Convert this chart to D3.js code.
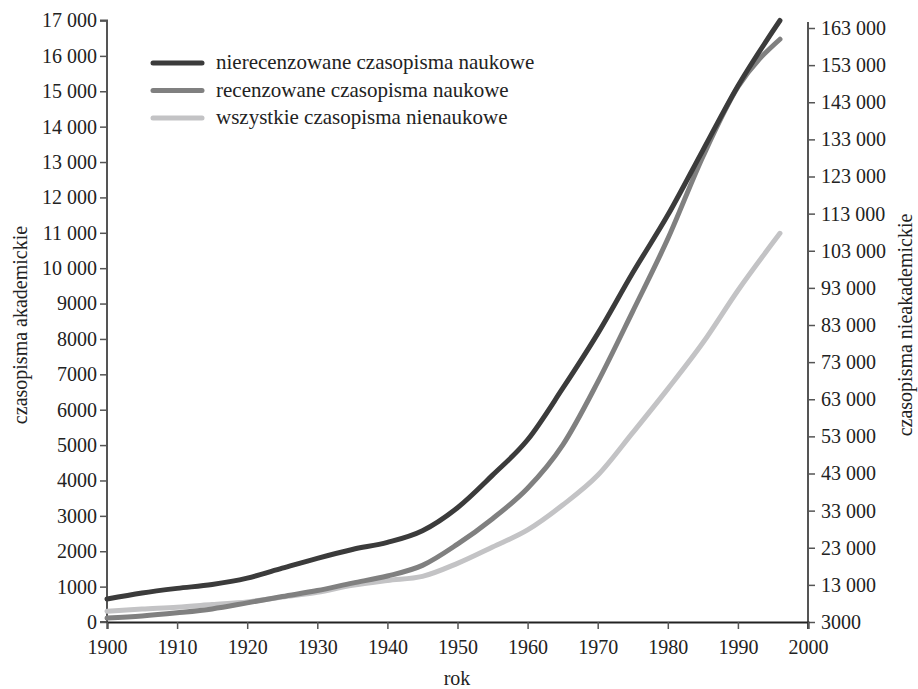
<!DOCTYPE html>
<html>
<head>
<meta charset="utf-8">
<script src="https://cdn.jsdelivr.net/npm/d3@7"></script>
<style>
  html, body { margin: 0; padding: 0; background: #fff; }
  svg text { font-family: "Liberation Serif", "Times New Roman", serif; fill: #222; }
</style>
</head>
<body>
<svg id="chart" width="918" height="689"></svg>
<script>
// ---- data ----
const years = [1900, 1905, 1910, 1915, 1920, 1925, 1930, 1935, 1940, 1945, 1950, 1955, 1960, 1965, 1970, 1975, 1980, 1985, 1990, 1996];
const nonReviewed = [650, 820, 950, 1060, 1240, 1520, 1800, 2050, 2250, 2580, 3230, 4150, 5150, 6600, 8150, 9870, 11500, 13330, 15150, 17000];
const reviewed = [110, 170, 260, 370, 540, 720, 890, 1100, 1300, 1600, 2200, 2920, 3780, 5000, 6780, 8780, 10830, 13150, 15120, 16470];
const nonAcademic = [5900, 6500, 7000, 7700, 8400, 9700, 11000, 12900, 14200, 15300, 18800, 23200, 27800, 34500, 42500, 54000, 65800, 78200, 92300, 107700];
const seriesNames = ["nierecenzowane czasopisma naukowe", "recenzowane czasopisma naukowe", "wszystkie czasopisma nienaukowe"];
const seriesColors = ["#3b3b3b", "#808080", "#c3c3c5"];
const xTicks = [1900, 1910, 1920, 1930, 1940, 1950, 1960, 1970, 1980, 1990, 2000];
const leftTicks = d3.range(0, 17001, 1000);
const rightTicks = d3.range(3000, 163001, 10000);
const xTitle = "rok";
const leftTitle = "czasopisma akademickie";
const rightTitle = "czasopisma nieakademickie";

// ---- layout ----
const svg = d3.select("#chart");
const x = d3.scaleLinear().domain([1900, 2000]).range([107, 808]);
const yL = d3.scaleLinear().domain([0, 17000]).range([622, 20.5]);
const yR = d3.scaleLinear().domain([3000, 163000]).range([622, 28]);

const fmt = v => v >= 10000 ? d3.format(",")(v).replace(/,/g, " ") : String(v);

// axes
const gL = svg.append("g").attr("transform", "translate(107,0)")
  .call(d3.axisLeft(yL).tickValues(leftTicks).tickFormat(fmt).tickSize(7).tickPadding(3));
const gR = svg.append("g").attr("transform", "translate(808,0)")
  .call(d3.axisRight(yR).tickValues(rightTicks).tickFormat(fmt).tickSize(7).tickPadding(6));
const gX = svg.append("g").attr("transform", "translate(0,622)")
  .call(d3.axisBottom(x).tickValues(xTicks).tickFormat(d3.format("d")).tickSize(7).tickPadding(11));

[gL, gR, gX].forEach(g => {
  g.selectAll("text").style("font-size", "20px").attr("fill", "#222");
  g.selectAll("line").attr("stroke", "#555").attr("stroke-width", 1.5);
  g.select(".domain").attr("stroke", "#555").attr("stroke-width", 2);
});
gX.select(".domain").attr("stroke", "#222");
gL.select(".domain").attr("d", "M-7,622H0V20.5H-7");
gR.select(".domain").attr("d", "M0,22V629");

// axis titles
svg.append("text").attr("x", 457).attr("y", 685).attr("text-anchor", "middle")
  .style("font-size", "20px").text(xTitle);
svg.append("text").attr("transform", "translate(27,325) rotate(-90)").attr("text-anchor", "middle")
  .style("font-size", "20px").text(leftTitle);
svg.append("text").attr("transform", "translate(912,325) rotate(-90)").attr("text-anchor", "middle")
  .style("font-size", "20px").text(rightTitle);

// lines
const mk = (vals, ys) => d3.line().curve(d3.curveMonotoneX)
  .x((d, i) => x(years[i])).y(d => ys(d))(vals);
const paths = [
  {vals: nonAcademic, ys: yR, c: seriesColors[2]},
  {vals: reviewed, ys: yL, c: seriesColors[1]},
  {vals: nonReviewed, ys: yL, c: seriesColors[0]}
];
paths.forEach(p => {
  svg.append("path").attr("d", mk(p.vals, p.ys)).attr("fill", "none")
    .attr("stroke", p.c).attr("stroke-width", 5).attr("stroke-linecap", "round").attr("stroke-linejoin", "round");
});

// legend
const leg = svg.append("g");
seriesNames.forEach((n, i) => {
  const yy = 63 + i * 27.5;
  leg.append("line").attr("x1", 153).attr("x2", 202).attr("y1", yy).attr("y2", yy)
    .attr("stroke", seriesColors[i]).attr("stroke-width", 5).attr("stroke-linecap", "round");
  leg.append("text").attr("x", 216).attr("y", yy + 6).style("font-size", "21px").text(n);
});
</script>
</body>
</html>
